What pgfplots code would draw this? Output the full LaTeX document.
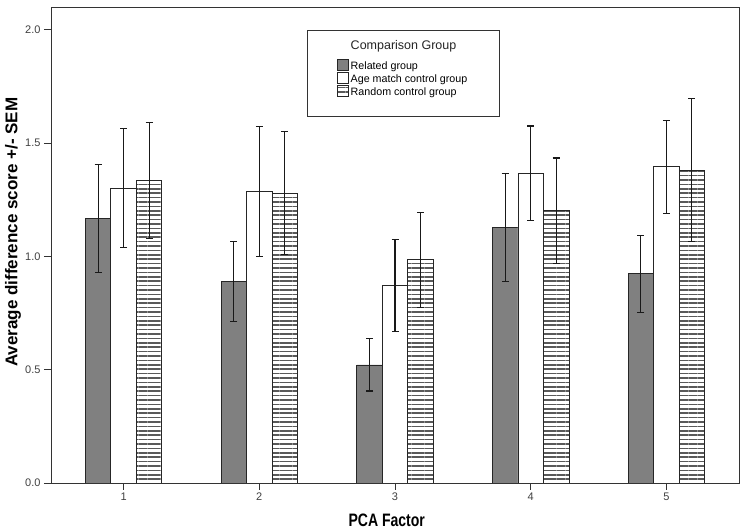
\documentclass[border=0pt]{standalone}
\usepackage{pgfplots}
\pgfplotsset{compat=1.18}
\usepackage{pgfplotstable}
\usepackage{fontspec}
\setmainfont{Liberation Sans}
\newfontfamily\narrowfont{Liberation Sans}[FakeStretch=0.78]
\usetikzlibrary{patterns.meta}

\pgfplotstableread{
x rel relerr age ageerr rnd rnderr
1 1.166 0.238 1.300 0.262 1.333 0.256
2 0.889 0.175 1.285 0.287 1.279 0.272
3 0.521 0.115 0.871 0.203 0.985 0.210
4 1.126 0.239 1.366 0.209 1.201 0.233
5 0.923 0.170 1.395 0.205 1.381 0.316
}\data

\begin{document}
\begin{tikzpicture}
\useasboundingbox (0,0) rectangle (750pt,532pt);
\begin{axis}[
  at={(51pt,49pt)}, anchor=south west,
  width=688pt, height=476pt, scale only axis,
  ybar=0pt, bar width=25.5pt,
  xmin=0.465, xmax=5.535, ymin=0, ymax=2.1,
  xtick={1,2,3,4,5}, ytick={0,0.5,1,1.5,2},
  yticklabel style={/pgf/number format/.cd, fixed, fixed zerofill, precision=1},
  /pgf/number format/assume math mode=true,
  xtick pos=bottom, ytick pos=left, tick align=outside,
  major tick length=7pt,
  tick style={black!80, line width=0.8pt},
  tick label style={font=\fontsize{11}{13}\selectfont, text=black!75},
  xticklabel style={yshift=1pt},
  axis line style={black!80, line width=0.8pt},
  xlabel={\narrowfont\bfseries PCA Factor},
  xlabel style={font=\fontsize{18}{20}\selectfont, at={(axis description cs:0.488,-0.078)}, anchor=center},
  ylabel={\bfseries Average difference score +/- SEM},
  ylabel style={font=\fontsize{17}{19}\selectfont, at={(axis description cs:-0.0552,0.527)}, anchor=center},
  legend style={at={(rel axis cs:0.372,0.9055)}, anchor=north west, draw=none, fill=none,
    font=\fontsize{10.7}{12}\selectfont, inner xsep=30pt, inner ysep=7pt, cells={anchor=west}, row sep=-0.3pt},
  legend image code/.code={\draw[#1, line width=0.6pt] (0pt,-4pt) rectangle (11pt,6.5pt);},
  error bars/y dir=both, error bars/y explicit,
  error bars/error bar style={line width=1.1pt, black!90},
  error bars/error mark options={rotate=90, mark size=3.5pt, line width=1.1pt, black!90},
]
\addplot[fill=black!50, draw=black!85, line width=0.7pt] table[x=x, y=rel, y error=relerr]{\data};
\addlegendentry{Related group}
\addplot[fill=white, draw=black!85, line width=0.7pt] table[x=x, y=age, y error=ageerr]{\data};
\addlegendentry{Age match control group}
\addplot[draw=black!85, line width=0.7pt, pattern={Lines[angle=0, distance=4.4pt, line width=1.6pt]}, pattern color=black!65] table[x=x, y=rnd, y error=rnderr]{\data};
\addlegendentry{Random control group}
\draw[black!80, line width=0.6pt, fill=white] (rel axis cs:0.372,0.950) rectangle (rel axis cs:0.651,0.771);
\node[anchor=base, font=\fontsize{12.5}{14}\selectfont, text=black!85] at (rel axis cs:0.5124,0.9097) {Comparison Group};
\end{axis}
\end{tikzpicture}
\end{document}
